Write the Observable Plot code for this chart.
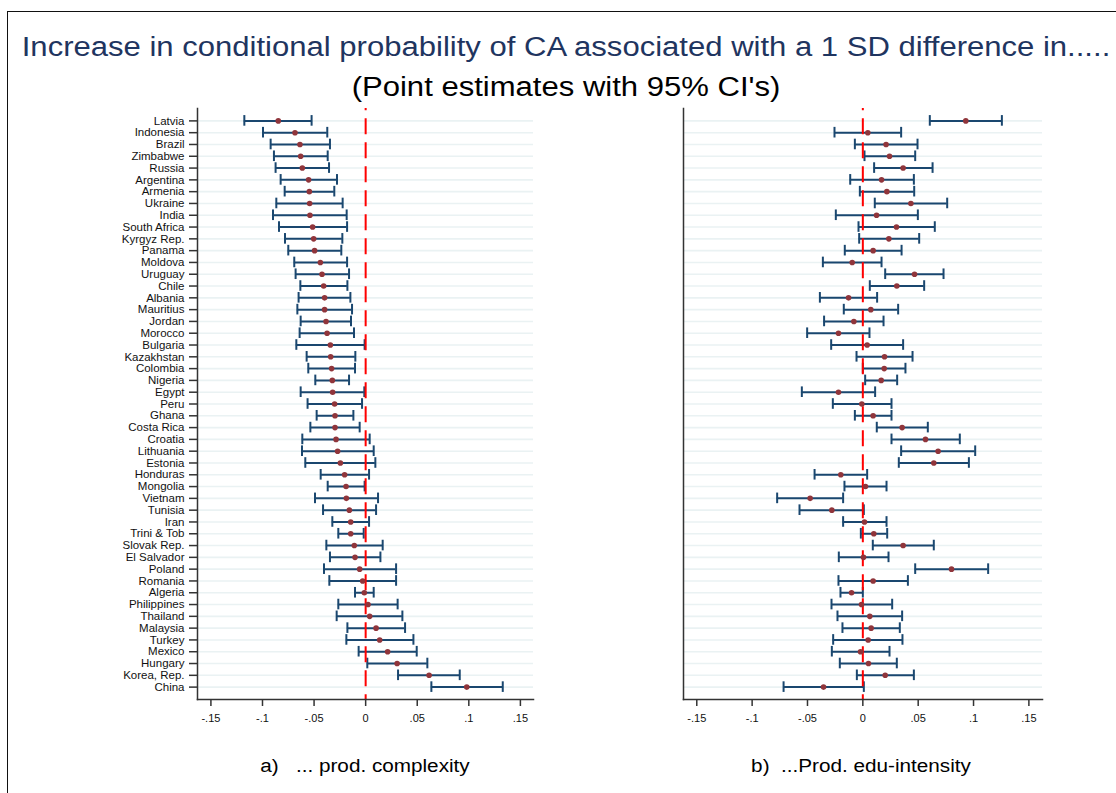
<!DOCTYPE html>
<html>
<head>
<meta charset="utf-8">
<script src="https://cdn.jsdelivr.net/npm/d3@7"></script>
<script src="https://cdn.jsdelivr.net/npm/@observablehq/plot@0.6"></script>
<style>
  html, body { margin: 0; padding: 0; background: #fff; }
  #wrap { position: relative; width: 1116px; height: 793px; overflow: hidden; font-family: "Liberation Sans", Arial, sans-serif; }
  #border { position: absolute; left: 7px; top: 11px; width: 1200px; height: 900px; border-top: 1px solid #111; border-left: 1px solid #111; }
  .t { position: absolute; white-space: pre; transform: translateX(-50%) scaleX(1.15); }
  #title { left: 566px; top: 34px; font-size: 27px; line-height: 27px; color: #1f3560; }
  #subtitle { left: 566px; top: 74px; font-size: 27px; line-height: 27px; color: #000; }
  .plab { top: 757px; font-size: 18px; line-height: 18px; color: #000; }
  #pa { left: 365px; }
  #pb { left: 861px; }
  #left, #right { position: absolute; top: 100px; }
  #left { left: 0px; }
  #right { left: 560px; }
</style>
</head>
<body>
<div id="wrap">
  <div id="border"></div>
  <div id="title" class="t">Increase in conditional probability of CA associated with a 1 SD difference in.....</div>
  <div id="subtitle" class="t">(Point estimates with 95% CI's)</div>
  <div id="left"></div>
  <div id="right"></div>
  <div id="pa" class="t plab">a)   ... prod. complexity</div>
  <div id="pb" class="t plab">b)  ...Prod. edu-intensity</div>
</div>
<script>
const countries = ["Latvia","Indonesia","Brazil","Zimbabwe","Russia","Argentina","Armenia","Ukraine","India","South Africa","Kyrgyz Rep.","Panama","Moldova","Uruguay","Chile","Albania","Mauritius","Jordan","Morocco","Bulgaria","Kazakhstan","Colombia","Nigeria","Egypt","Peru","Ghana","Costa Rica","Croatia","Lithuania","Estonia","Honduras","Mongolia","Vietnam","Tunisia","Iran","Trini & Tob","Slovak Rep.","El Salvador","Poland","Romania","Algeria","Philippines","Thailand","Malaysia","Turkey","Mexico","Hungary","Korea, Rep.","China"];

// a) product complexity
const compEst = [-0.0847,-0.0685,-0.0637,-0.0630,-0.0614,-0.0553,-0.0546,-0.0543,-0.0540,-0.0514,-0.0504,-0.0495,-0.0439,-0.0423,-0.0407,-0.0398,-0.0398,-0.0384,-0.0374,-0.0342,-0.0339,-0.0330,-0.0323,-0.0320,-0.0301,-0.0297,-0.0297,-0.0287,-0.0272,-0.0245,-0.0204,-0.0190,-0.0187,-0.0158,-0.0145,-0.0145,-0.0110,-0.0103,-0.0058,-0.0029,-0.0013,0.0023,0.0039,0.0101,0.0136,0.0213,0.0305,0.0615,0.0980];
const compLo = [-0.1176,-0.0995,-0.0921,-0.0889,-0.0873,-0.0824,-0.0785,-0.0866,-0.0898,-0.0840,-0.0782,-0.0750,-0.0692,-0.0679,-0.0633,-0.0650,-0.0662,-0.0630,-0.0640,-0.0672,-0.0572,-0.0556,-0.0488,-0.0630,-0.0563,-0.0475,-0.0536,-0.0614,-0.0617,-0.0585,-0.0436,-0.0368,-0.0491,-0.0413,-0.0323,-0.0265,-0.0381,-0.0346,-0.0404,-0.0352,-0.0103,-0.0265,-0.0281,-0.0177,-0.0187,-0.0068,0.0016,0.0314,0.0637];
const compHi = [-0.0524,-0.0372,-0.0346,-0.0368,-0.0355,-0.0278,-0.0304,-0.0223,-0.0184,-0.0180,-0.0226,-0.0236,-0.0180,-0.0161,-0.0177,-0.0148,-0.0132,-0.0142,-0.0113,-0.0010,-0.0100,-0.0103,-0.0161,-0.0013,-0.0035,-0.0119,-0.0058,0.0039,0.0078,0.0094,0.0033,-0.0010,0.0120,0.0101,0.0033,-0.0019,0.0165,0.0143,0.0295,0.0295,0.0078,0.0310,0.0356,0.0382,0.0463,0.0495,0.0598,0.0912,0.1329];

// b) product education intensity
const eduEst = [0.0930,0.0045,0.0210,0.0241,0.0364,0.0169,0.0217,0.0434,0.0124,0.0304,0.0235,0.0093,-0.0096,0.0467,0.0307,-0.0129,0.0072,-0.0081,-0.0220,0.0039,0.0196,0.0193,0.0166,-0.0220,-0.0009,0.0093,0.0355,0.0566,0.0680,0.0641,-0.0199,0.0024,-0.0476,-0.0280,0.0015,0.0099,0.0364,0.0006,0.0801,0.0093,-0.0102,-0.0012,0.0063,0.0075,0.0048,-0.0021,0.0051,0.0202,-0.0355];
const eduLo = [0.0605,-0.0256,-0.0072,0.0015,0.0102,-0.0114,-0.0027,0.0108,-0.0244,-0.0039,-0.0033,-0.0163,-0.0361,0.0202,0.0063,-0.0388,-0.0172,-0.0350,-0.0503,-0.0286,-0.0057,0.0000,0.0021,-0.0551,-0.0271,-0.0072,0.0126,0.0259,0.0346,0.0325,-0.0436,-0.0166,-0.0774,-0.0572,-0.0178,-0.0018,0.0090,-0.0217,0.0473,-0.0220,-0.0202,-0.0283,-0.0229,-0.0184,-0.0268,-0.0280,-0.0208,-0.0054,-0.0716];
const eduHi = [0.1256,0.0346,0.0494,0.0473,0.0630,0.0461,0.0464,0.0762,0.0497,0.0650,0.0509,0.0350,0.0169,0.0729,0.0554,0.0129,0.0319,0.0187,0.0060,0.0364,0.0449,0.0385,0.0310,0.0111,0.0259,0.0259,0.0587,0.0876,0.1015,0.0958,0.0039,0.0214,-0.0178,0.0009,0.0214,0.0220,0.0641,0.0232,0.1132,0.0407,0.0000,0.0265,0.0355,0.0334,0.0358,0.0241,0.0307,0.0461,0.0009];

const tickValues = [-0.15, -0.1, -0.05, 0, 0.05, 0.1, 0.15];
const tickLabels = ["-.15", "-.1", "-.05", "0", ".05", ".1", ".15"];

const NAVY = "#1a476f", MAROON = "#90353b", GRID = "#eaf2f3", AXIS = "#333";

function panel({est, lo, hi, width, marginLeft, marginRight, domain, showY}) {
  const data = countries.map((c, i) => ({c, e: est[i], lo: lo[i], hi: hi[i]}));
  const marks = [
    Plot.ruleY(countries, {y: d => d, stroke: GRID, strokeWidth: 1.6}),
    Plot.ruleY(data, {y: "c", x1: "lo", x2: "hi", stroke: NAVY, strokeWidth: 2}),
    Plot.tickX(data, {x: "lo", y: "c", stroke: NAVY, strokeWidth: 2}),
    Plot.tickX(data, {x: "hi", y: "c", stroke: NAVY, strokeWidth: 2}),
    Plot.ruleX([0], {stroke: "#ff0000", strokeWidth: 2, strokeDasharray: "16,8", strokeDashoffset: 13.7}),
    Plot.dot(data, {x: "e", y: "c", r: 2.8, fill: MAROON, stroke: "none"}),
    Plot.frame({anchor: "left", stroke: AXIS, strokeWidth: 1.5}),
    Plot.frame({anchor: "bottom", stroke: AXIS, strokeWidth: 1.5}),
    Plot.axisX({ticks: tickValues, tickFormat: d => tickLabels[tickValues.findIndex(v => Math.abs(v - d) < 1e-9)], tickSize: 7, tickPadding: 8, fontSize: 11, stroke: AXIS, strokeWidth: 1.5, label: null})
  ];
  if (showY) marks.push(Plot.axisY({tickSize: 8, tickPadding: 5, fontSize: 11.5, stroke: AXIS, strokeWidth: 1.5, label: null}));
  return Plot.plot({
    width, height: 640,
    marginTop: 8, marginBottom: 41, marginLeft, marginRight,
    x: {domain},
    y: {type: "band", domain: countries, paddingInner: 0.1, paddingOuter: 0.6, axis: null},
    style: {fontFamily: "'Liberation Sans', Arial, sans-serif", color: "#111", background: "transparent", overflow: "visible"},
    marks
  });
}

document.getElementById("left").append(panel({est: compEst, lo: compLo, hi: compHi, width: 545, marginLeft: 197, marginRight: 12, domain: [-0.163, 0.1627], showY: true}));
document.getElementById("right").append(panel({est: eduEst, lo: eduLo, hi: eduHi, width: 500, marginLeft: 123, marginRight: 18, domain: [-0.162, 0.1623], showY: false}));
</script>
</body>
</html>
